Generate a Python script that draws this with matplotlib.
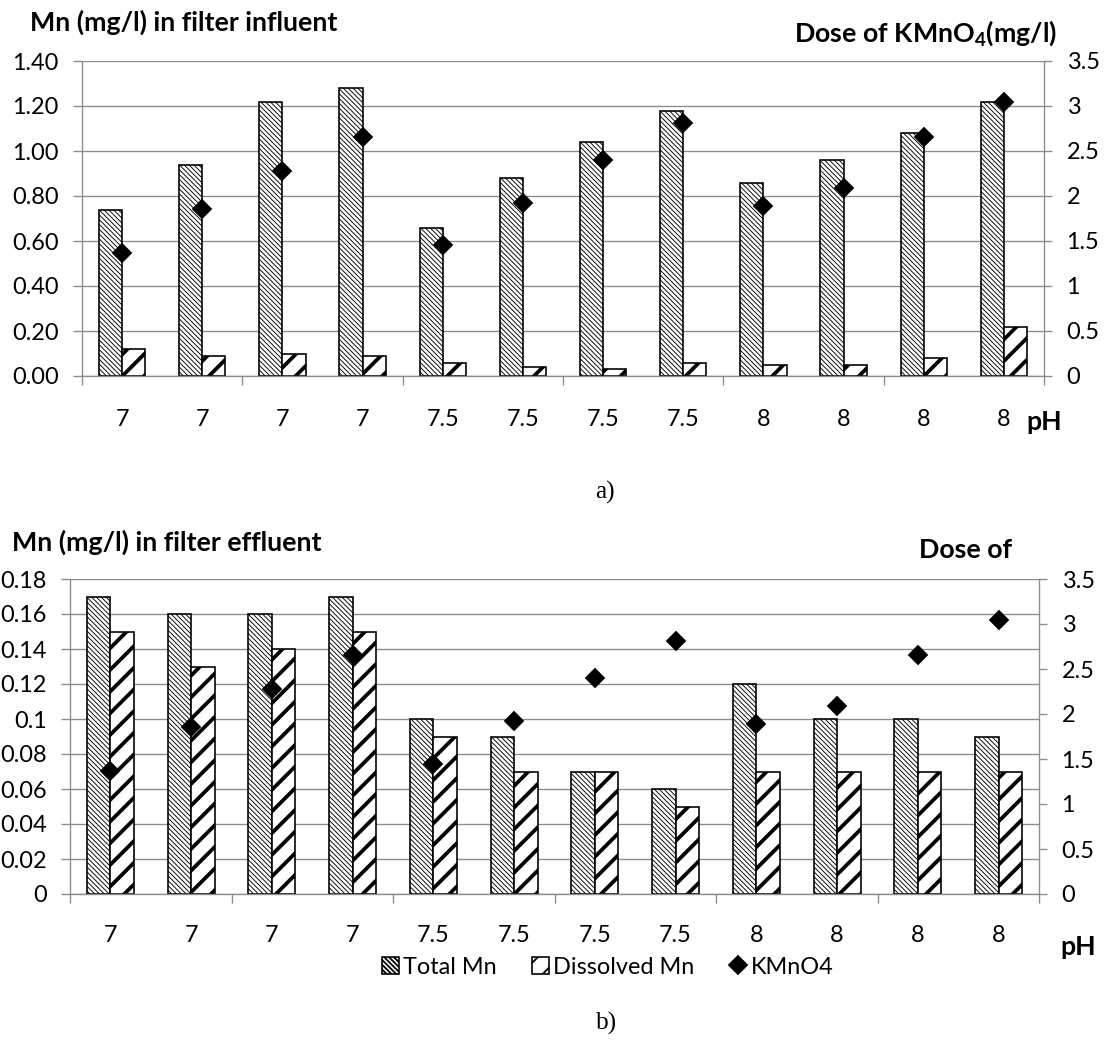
import numpy as np
import matplotlib
matplotlib.use("Agg")
import matplotlib.pyplot as plt

plt.rcParams['font.family'] = ['Lato', 'DejaVu Sans']
plt.rcParams['mathtext.fontset'] = 'custom'
plt.rcParams['mathtext.rm'] = 'Lato:bold'
plt.rcParams['mathtext.it'] = 'Lato:bold'
plt.rcParams['mathtext.bf'] = 'Lato:bold'

# data
ph = ["7", "7", "7", "7", "7.5", "7.5", "7.5", "7.5", "8", "8", "8", "8"]
kmno4_dose = [1.37, 1.86, 2.28, 2.66, 1.45, 1.92, 2.40, 2.81, 1.89, 2.09, 2.66, 3.04]

influent_total = [0.74, 0.94, 1.22, 1.28, 0.66, 0.88, 1.04, 1.18, 0.86, 0.96, 1.08, 1.22]
influent_dissolved = [0.12, 0.09, 0.10, 0.09, 0.06, 0.04, 0.03, 0.06, 0.05, 0.05, 0.08, 0.22]

effluent_total = [0.17, 0.16, 0.16, 0.17, 0.10, 0.09, 0.07, 0.06, 0.12, 0.10, 0.10, 0.09]
effluent_dissolved = [0.15, 0.13, 0.14, 0.15, 0.09, 0.07, 0.07, 0.05, 0.07, 0.07, 0.07, 0.07]

DPI = 130
W, H = 1109, 1040
GRID = "#8c8c8c"
TICK_FS = 13
BOLD_FS = 14.8
BAR_W = 0.29

fig = plt.figure(figsize=(W / DPI, H / DPI), dpi=DPI)


def px_box(x0, x1, y_top, y_bot):
    return [x0 / W, 1 - y_bot / H, (x1 - x0) / W, (y_bot - y_top) / H]


def set_hatch_lw(bars, lw):
    for p in bars:
        if hasattr(p, "set_hatch_linewidth"):
            p.set_hatch_linewidth(lw)


def draw_panel(box, total, dissolved, ymax, ystep, yfmt, xpad):
    ax = fig.add_axes(box)
    x = np.arange(len(ph))
    b1 = ax.bar(x - BAR_W / 2, total, BAR_W, color="white", edgecolor="black",
                linewidth=0.9, hatch="\\" * 9, label="Total Mn", zorder=2)
    b2 = ax.bar(x + BAR_W / 2, dissolved, BAR_W, color="white", edgecolor="black",
                linewidth=0.9, hatch="//", label="Dissolved Mn", zorder=2)
    set_hatch_lw(b1, 0.5)
    set_hatch_lw(b2, 2.1)

    ax.set_xlim(-0.5, len(ph) - 0.5)
    ax.set_ylim(0, ymax)
    yt = np.arange(0, ymax + ystep / 2, ystep)
    ax.set_yticks(yt)
    ax.set_yticklabels([yfmt(v) for v in yt])
    ax.yaxis.grid(True, color=GRID, linewidth=0.75)
    ax.set_axisbelow(True)

    # ticks between every pair of categories, labels on each category
    ax.set_xticks(np.arange(-0.5, len(ph), 2))
    ax.set_xticklabels([])
    ax.set_xticks(x, minor=True)
    ax.set_xticklabels(ph, minor=True)
    ax.tick_params(axis="x", which="major", length=5, color=GRID, width=0.75)
    ax.tick_params(axis="x", which="minor", length=0, pad=xpad, labelsize=TICK_FS)
    ax.tick_params(axis="y", length=5, color=GRID, width=0.75, pad=8, labelsize=TICK_FS)
    for s in ["top", "right"]:
        ax.spines[s].set_visible(False)
    for s in ["left", "bottom"]:
        ax.spines[s].set_color(GRID)
        ax.spines[s].set_linewidth(0.75)

    ax2 = ax.twinx()
    ln, = ax2.plot(x, kmno4_dose, linestyle="none", marker="D", markersize=6.8,
                   color="black", label="KMnO4", zorder=3)
    ax2.set_ylim(0, 3.5)
    rt = np.arange(0, 3.51, 0.5)
    ax2.set_yticks(rt)
    ax2.set_yticklabels(["{:g}".format(v) for v in rt])
    ax2.tick_params(axis="y", length=4.5, color=GRID, width=0.75, pad=8, labelsize=TICK_FS)
    for s in ["top", "left", "bottom"]:
        ax2.spines[s].set_visible(False)
    ax2.spines["right"].set_color(GRID)
    ax2.spines["right"].set_linewidth(0.75)
    return ax, b1, b2, ln


# a) influent
draw_panel(px_box(82, 1044, 61, 376), influent_total, influent_dissolved,
           1.40, 0.20, lambda v: "{:.2f}".format(v), 18)
fig.text(30 / W, 1 - 22 / H, "Mn (mg/l) in filter influent", fontsize=BOLD_FS,
         fontweight="bold", ha="left", va="center")
fig.text(1057 / W, 1 - 33 / H, r"Dose of KMnO$_4$(mg/l)", fontsize=BOLD_FS,
         fontweight="bold", ha="right", va="center")
fig.text(1044 / W, 1 - 422 / H, "pH", fontsize=BOLD_FS, fontweight="bold",
         ha="center", va="center")
fig.text(605 / W, 1 - 492 / H, "a)", fontsize=14, family="Liberation Serif",
         ha="center", va="center")

# b) effluent
ax, b1, b2, ln = draw_panel(px_box(70, 1039, 579, 894), effluent_total, effluent_dissolved,
                            0.18, 0.02, lambda v: "{:g}".format(round(v, 2)), 17)
fig.text(12 / W, 1 - 542 / H, "Mn (mg/l) in filter effluent", fontsize=BOLD_FS,
         fontweight="bold", ha="left", va="center")
fig.text(1012 / W, 1 - 550 / H, "Dose of", fontsize=BOLD_FS,
         fontweight="bold", ha="right", va="center")
fig.text(1078 / W, 1 - 947 / H, "pH", fontsize=BOLD_FS, fontweight="bold",
         ha="center", va="center")
fig.text(607 / W, 1 - 1023 / H, "b)", fontsize=14, family="Liberation Serif",
         ha="center", va="center")

fig.legend([b1, b2, ln], ["Total Mn", "Dissolved Mn", "KMnO4"], loc="center",
           bbox_to_anchor=(608 / W, 1 - 967 / H), ncol=3, frameon=False,
           fontsize=TICK_FS, handlelength=0.7, handleheight=0.7,
           handletextpad=0.2, columnspacing=1.5, borderpad=0)

fig.savefig("out.png", dpi=DPI)
